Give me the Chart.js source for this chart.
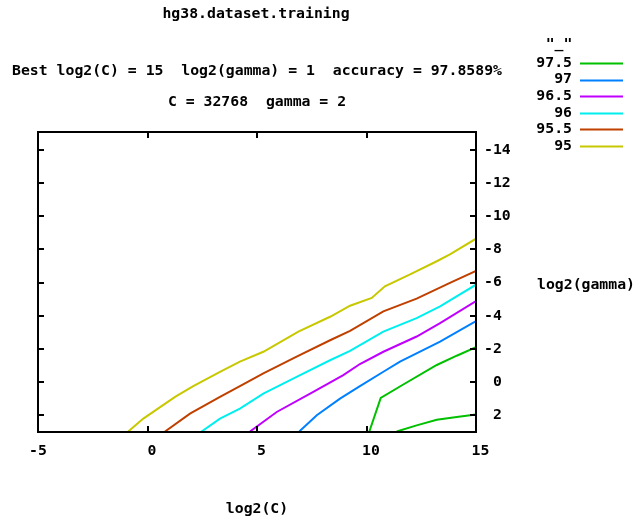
<!DOCTYPE html>
<html lang="en">
<head>
<meta charset="UTF-8">
<title>hg38.dataset.training</title>
<script src="https://cdn.jsdelivr.net/npm/chart.js"></script>
<style>
    body { margin: 0; padding: 0; background: #fff; }
    #wrap { width: 636px; height: 523px; }
</style>
</head>
<body>
<div id="wrap"><canvas id="grid" width="636" height="523"></canvas></div>
<script>
    // contour lines, x = log2(C), y = log2(gamma)
    const c95 = [[-0.88, 3], [-0.19, 2.22], [1.26, 0.91], [2.09, 0.26], [3.31, -0.61], [4.22, -1.22], [5.29, -1.82],
        [6.89, -3.04], [8.36, -3.95], [9.25, -4.6], [10.24, -5.07], [10.84, -5.78], [11.99, -6.49], [13.21, -7.29],
        [13.81, -7.7], [15, -8.65]];
    const c955 = [[0.8, 3], [1.94, 1.92], [3.31, 0.91], [4.22, 0.26], [5.29, -0.51], [6.81, -1.52], [8.36, -2.53],
        [9.25, -3.08], [10.77, -4.26], [12.29, -5.03], [13.81, -5.98], [15, -6.7]];
    const c96 = [[2.47, 3], [3.31, 2.22], [4.22, 1.62], [5.29, 0.71], [6.81, -0.3], [8.36, -1.32], [9.25, -1.87],
        [10.77, -3.04], [12.29, -3.85], [13.36, -4.56], [15, -5.87]];
    const c965 = [[4.68, 3], [5.9, 1.82], [7.57, 0.61], [8.94, -0.41], [9.7, -1.08], [10.77, -1.82], [12.29, -2.74],
        [13.36, -3.55], [15, -4.88]];
    const c97 = [[6.93, 3], [7.73, 2.02], [8.79, 1.01], [9.7, 0.26], [10.77, -0.61], [11.53, -1.22], [13.36, -2.43],
        [15, -3.67]];
    const c975a = [[10.13, 3], [10.65, 0.97], [11.68, 0.16], [13.21, -1.02], [14.12, -1.58], [15, -2.09]];
    const c975b = [[11.38, 3], [12.29, 2.63], [13.21, 2.29], [14.12, 2.13], [15, 1.97]];

    const levels = ['97.5', '97', '96.5', '96', '95.5', '95'];
    const colors = ['#00c000', '#0080ff', '#c000ff', '#00eeee', '#c04000', '#c8c800'];
    const xTicks = [-5, 0, 5, 10, 15];
    const yTicks = [-14, -12, -10, -8, -6, -4, -2, 0, 2];

    const FONT = 'bold 14.8px "DejaVu Sans Mono", "Liberation Mono", monospace';

    function pts(arr) {
        return arr.map(p => ({ x: p[0], y: p[1] }));
    }

    function line(label, arr, color) {
        return {
            label: label,
            data: pts(arr),
            borderColor: color,
            backgroundColor: color,
            borderWidth: 2,
            pointRadius: 0,
            showLine: true,
            tension: 0
        };
    }

    // gnuplot "% g": positive numbers get a leading space
    function fmt(v) {
        return v >= 0 ? ' ' + v : String(v);
    }

    const gnuplotFrame = {
        id: 'gnuplotFrame',
        afterDraw(chart) {
            const ctx = chart.ctx;
            const a = chart.chartArea;
            const xs = chart.scales.x, ys = chart.scales.y;
            ctx.save();
            ctx.strokeStyle = '#000';
            ctx.lineWidth = 2;
            ctx.strokeRect(a.left, a.top, a.right - a.left, a.bottom - a.top);

            // inward ticks on all four sides
            ctx.beginPath();
            xTicks.forEach(v => {
                const px = Math.round(xs.getPixelForValue(v));
                ctx.moveTo(px, a.bottom); ctx.lineTo(px, a.bottom - 6);
                ctx.moveTo(px, a.top); ctx.lineTo(px, a.top + 6);
            });
            yTicks.forEach(v => {
                const py = Math.round(ys.getPixelForValue(v));
                ctx.moveTo(a.left, py); ctx.lineTo(a.left + 6, py);
                ctx.moveTo(a.right, py); ctx.lineTo(a.right - 6, py);
            });
            ctx.stroke();

            ctx.fillStyle = '#000';
            ctx.font = FONT;
            ctx.textBaseline = 'middle';
            ctx.textAlign = 'center';
            ctx.fillText('hg38.dataset.training', 256, 14);
            ctx.fillText('Best log2(C) = 15  log2(gamma) = 1  accuracy = 97.8589%', 257, 71);
            ctx.fillText('C = 32768  gamma = 2', 257, 102);
            ctx.fillText('log2(C)', 257, 509);
            ctx.textAlign = 'left';
            ctx.fillText('log2(gamma)', 537, 285);

            // key
            ctx.textAlign = 'center';
            ctx.fillText('"_"', 559, 44);
            ctx.textAlign = 'right';
            ctx.lineWidth = 2;
            levels.forEach((lv, i) => {
                const y = 63 + i * 16.6;
                ctx.fillStyle = '#000';
                ctx.fillText(lv, 572, y);
                ctx.strokeStyle = colors[i];
                ctx.beginPath();
                ctx.moveTo(580, Math.round(y) + 0.5);
                ctx.lineTo(623, Math.round(y) + 0.5);
                ctx.stroke();
            });
            ctx.restore();
        }
    };

    new Chart(document.getElementById('grid'), {
        type: 'scatter',
        data: {
            datasets: [
                line('97.5', c975a, colors[0]),
                line('97.5', c975b, colors[0]),
                line('97', c97, colors[1]),
                line('96.5', c965, colors[2]),
                line('96', c96, colors[3]),
                line('95.5', c955, colors[4]),
                line('95', c95, colors[5])
            ]
        },
        options: {
            responsive: false,
            animation: false,
            devicePixelRatio: 1,
            layout: { padding: { left: 38, top: 132, right: 0, bottom: 0 } },
            plugins: {
                legend: { display: false },
                title: { display: false },
                tooltip: { enabled: false }
            },
            scales: {
                x: {
                    type: 'linear',
                    min: -5,
                    max: 15,
                    grid: { display: false, drawTicks: false },
                    border: { display: false },
                    afterBuildTicks: s => { s.ticks = xTicks.map(v => ({ value: v })); },
                    afterFit: s => { s.height = 91; },
                    ticks: {
                        padding: 10,
                        color: '#000',
                        maxRotation: 0,
                        font: { family: '"DejaVu Sans Mono", monospace', size: 14.8, weight: 'bold' },
                        callback: v => fmt(v)
                    }
                },
                y: {
                    type: 'linear',
                    position: 'right',
                    reverse: true,
                    min: -15.1,
                    max: 3.03,
                    grid: { display: false, drawTicks: false },
                    border: { display: false },
                    afterBuildTicks: s => { s.ticks = yTicks.map(v => ({ value: v })); },
                    afterFit: s => { s.width = 160; },
                    ticks: {
                        padding: 8,
                        color: '#000',
                        font: { family: '"DejaVu Sans Mono", monospace', size: 14.8, weight: 'bold' },
                        callback: v => fmt(v)
                    }
                }
            }
        },
        plugins: [gnuplotFrame]
    });
</script>
</body>
</html>
